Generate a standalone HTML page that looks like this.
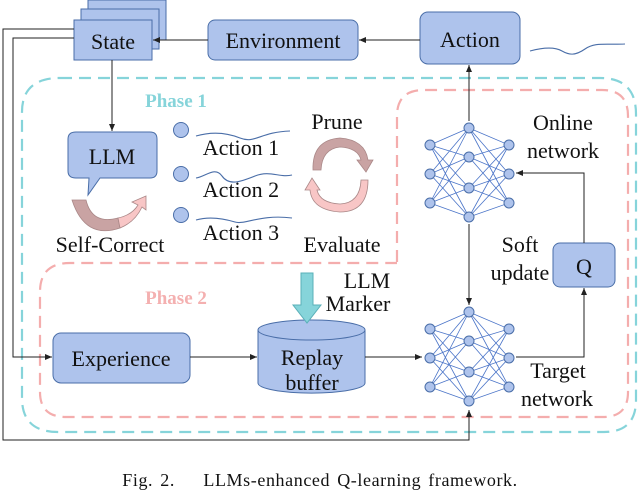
<!DOCTYPE html>
<html><head><style>
body{margin:0;background:#fff}
svg{display:block}
text{font-family:"Liberation Serif",serif;fill:#111}
</style></head><body>
<svg width="640" height="497" viewBox="0 0 640 497">
<defs>
<marker id="ar" markerWidth="8" markerHeight="8" refX="7" refY="4" orient="auto" markerUnits="userSpaceOnUse"><path d="M0,1 L7,4 L0,7 z" fill="#222"/></marker>
</defs>
<g fill="#aec3ec" stroke="#4a6ea8" stroke-width="1">
<rect x="88" y="0" width="78" height="40"/>
<rect x="81" y="9" width="78" height="40"/>
<rect x="74" y="20" width="78" height="40"/>
<rect x="208" y="20" width="150" height="40" rx="7"/>
<rect x="420" y="12" width="100" height="52" rx="8"/>
<rect x="53" y="333" width="137" height="50" rx="8"/>
<rect x="553" y="243" width="62" height="44" rx="7"/>
<path d="M76,132 H150 Q157,132 157,139 V171 Q157,178 150,178 H100 L88,195 L89,178 H76 Q68,178 68,171 V139 Q68,132 76,132 z"/>
<path d="M258,330 V383 A53,10 0 0 0 365,383 V330"/>
<ellipse cx="311.5" cy="330" rx="53.5" ry="10"/>
<circle cx="181" cy="130" r="7.5"/><circle cx="181" cy="174" r="7.5"/><circle cx="181" cy="215" r="7.5"/>
</g>
<g font-size="22" text-anchor="middle">
<text x="113" y="49">State</text>
<text x="283" y="48">Environment</text>
<text x="470" y="47">Action</text>
<text x="112" y="164">LLM</text>
<text x="121" y="366">Experience</text>
<text x="312" y="365">Replay</text>
<text x="312" y="390">buffer</text>
<text x="584" y="274">Q</text>
<text x="241" y="155">Action 1</text>
<text x="241" y="197">Action 2</text>
<text x="241" y="240">Action 3</text>
<text x="337" y="129">Prune</text>
<text x="342" y="252">Evaluate</text>
<text x="110" y="252">Self-Correct</text>
<text x="563" y="130">Online</text>
<text x="563" y="158">network</text>
<text x="520" y="252">Soft</text>
<text x="520" y="280">update</text>
<text x="367" y="288">LLM</text>
<text x="358" y="311">Marker</text>
<text x="558" y="378">Target</text>
<text x="557" y="406">network</text>
</g>
<text x="176" y="107" font-size="19" font-weight="bold" text-anchor="middle" style="fill:#86d4da">Phase 1</text>
<text x="176" y="304" font-size="19" font-weight="bold" text-anchor="middle" style="fill:#f4b0b0">Phase 2</text>
<text x="320" y="486" font-size="18" text-anchor="middle" letter-spacing="0.6" word-spacing="2">Fig. 2.&#160;&#160;&#160; LLMs-enhanced Q-learning framework.</text>
<g fill="none" stroke="#4a6ea8" stroke-width="1.1">
<path d="M530,51 C545,47 555,47 562,51 S575,56 585,49 S605,45 625,44"/>
<path d="M196,136 C210,132 225,132 240,138 S260,132 290,131"/>
<path d="M196,178 C205,177 215,166 222,176 S240,182 255,176 S280,178 292,175"/>
<path d="M196,220 C210,216 225,219 235,222 S260,214 292,218"/>
</g>
<path d="M60,78 H600 Q636,78 636,114 V400 Q636,432 604,432 H58 Q22,432 22,398 V112 Q22,78 60,78 z" fill="none" stroke="#86d4da" stroke-width="2.2" stroke-dasharray="12,7"/>
<path d="M397,262 V116 Q397,90 424,90 H602 Q628,90 628,116 V392 Q628,417 603,417 H66 Q40,417 40,392 V292 Q40,263 70,263 H397" fill="none" stroke="#f4adad" stroke-width="2.2" stroke-dasharray="12,7"/>
<g fill="none" stroke="#222" stroke-width="1">
<line x1="208" y1="40" x2="153" y2="40" marker-end="url(#ar)"/>
<line x1="420" y1="40" x2="359" y2="40" marker-end="url(#ar)"/>
<line x1="112" y1="60" x2="112" y2="131" marker-end="url(#ar)"/>
<line x1="469" y1="121" x2="469" y2="65" marker-end="url(#ar)"/>
<line x1="469" y1="224" x2="469" y2="305" marker-end="url(#ar)"/>
<polyline points="74,29 3,29 3,440 469,440 469,410" marker-end="url(#ar)"/>
<polyline points="74,38 13,38 13,357 52,357" marker-end="url(#ar)"/>
<line x1="190" y1="357" x2="257" y2="357" marker-end="url(#ar)"/>
<line x1="365" y1="357" x2="422" y2="357" marker-end="url(#ar)"/>
<polyline points="516,357 584,357 584,288" marker-end="url(#ar)"/>
<polyline points="584,243 584,173 516,173" marker-end="url(#ar)"/>
</g>
<g id="nn">
<g stroke="#4a74c8" stroke-width="0.8">
<line x1="430" y1="145" x2="469" y2="128"/><line x1="430" y1="145" x2="469" y2="157"/><line x1="430" y1="145" x2="469" y2="188"/><line x1="430" y1="145" x2="469" y2="217"/>
<line x1="430" y1="174" x2="469" y2="128"/><line x1="430" y1="174" x2="469" y2="157"/><line x1="430" y1="174" x2="469" y2="188"/><line x1="430" y1="174" x2="469" y2="217"/>
<line x1="430" y1="203" x2="469" y2="128"/><line x1="430" y1="203" x2="469" y2="157"/><line x1="430" y1="203" x2="469" y2="188"/><line x1="430" y1="203" x2="469" y2="217"/>
<line x1="509" y1="145" x2="469" y2="128"/><line x1="509" y1="145" x2="469" y2="157"/><line x1="509" y1="145" x2="469" y2="188"/><line x1="509" y1="145" x2="469" y2="217"/>
<line x1="509" y1="174" x2="469" y2="128"/><line x1="509" y1="174" x2="469" y2="157"/><line x1="509" y1="174" x2="469" y2="188"/><line x1="509" y1="174" x2="469" y2="217"/>
<line x1="509" y1="203" x2="469" y2="128"/><line x1="509" y1="203" x2="469" y2="157"/><line x1="509" y1="203" x2="469" y2="188"/><line x1="509" y1="203" x2="469" y2="217"/>
</g>
<g fill="#aec3ec" stroke="#4a6ea8">
<circle cx="430" cy="145" r="5"/><circle cx="430" cy="174" r="5"/><circle cx="430" cy="203" r="5"/>
<circle cx="509" cy="145" r="5"/><circle cx="509" cy="174" r="5"/><circle cx="509" cy="203" r="5"/>
<circle cx="469" cy="128" r="5"/><circle cx="469" cy="157" r="5"/><circle cx="469" cy="188" r="5"/><circle cx="469" cy="217" r="5"/>
</g>
</g>
<use href="#nn" transform="translate(0,184)"/>
<g stroke="#a88" stroke-width="0.8">
<path d="M72,200 Q85,240 120,228 L118,218 Q92,225 86,200 z" fill="#c9a3a3"/>
<path d="M118,218 Q132,215 138,205 L132,202 L146,196 L146,210 L142,207 Q135,222 120,228 z" fill="#f8c6c6"/>
<path d="M313,170 Q312,140 340,138 Q365,140 368,160 L373,160 L366,172 L357,160 L361,160 Q358,148 340,147 Q322,149 321,170 z" fill="#c9a3a3"/>
<path d="M368,180 Q368,212 340,212 Q312,210 310,190 L305,190 L312,178 L320,190 L317,190 Q320,203 340,204 Q360,203 361,180 z" fill="#f8c6c6"/>
</g>
<path d="M301,273 H313 V305 H321 L307,323 L293,305 H301 z" fill="#86d4da" stroke="#5ab0b8" stroke-width="1"/>
</svg>
</body></html>
